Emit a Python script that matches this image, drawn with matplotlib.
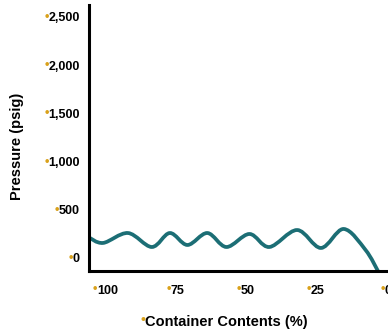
import matplotlib.pyplot as plt
from matplotlib.path import Path
from matplotlib.patches import PathPatch
import numpy as np

# chart data
contents = [106.9, 101.6, 92.7, 84.2, 77.8, 71.5, 64.4, 57.6, 49.4, 42.3, 32.4, 23.9, 15.8, 8.0, 3.4]
pressure = [218, 156, 259, 114, 259, 135, 259, 114, 249, 114, 290, 104, 301, 83, -145]
x_ticks = [100, 75, 50, 25, 0]
y_ticks = [0, 500, 1000, 1500, 2000, 2500]
y_tick_labels = ["0", "500", "1,000", "1,500", "2,000", "2,500"]

TEAL = "#1c6e75"
GOLD = "#d9a11b"
FONT = "Liberation Sans"

plt.rcParams['font.family'] = [FONT, 'DejaVu Sans']

fig = plt.figure(figsize=(3.88, 3.33), dpi=100)
ax = fig.add_axes([89 / 388, 1 - 271 / 333, 1 - 89 / 388, (271 - 5) / 333])

# smooth line through the read points (Catmull-Rom as Bezier segments)
pts = np.column_stack([contents, pressure])
verts = [pts[0]]
codes = [Path.MOVETO]
n = len(pts)
for i in range(n - 1):
    p0 = pts[max(i - 1, 0)]
    p1 = pts[i]
    p2 = pts[i + 1]
    p3 = pts[min(i + 2, n - 1)]
    verts += [p1 + (p2 - p0) / 6, p2 - (p3 - p1) / 6, p2]
    codes += [Path.CURVE4] * 3
ax.add_patch(PathPatch(Path(verts, codes), facecolor="none", edgecolor=TEAL,
                       lw=2.7, capstyle="round", joinstyle="round"))

ax.set_xlim(106.6, 0.5)
ax.set_ylim(-135, 2624)

for s in ["top", "right"]:
    ax.spines[s].set_visible(False)
for s in ["left", "bottom"]:
    ax.spines[s].set_linewidth(2.2)
    ax.spines[s].set_color("black")

ax.set_xticks(x_ticks)
ax.set_xticklabels([str(v) for v in x_ticks])
ax.set_yticks(y_ticks)
ax.set_yticklabels(y_tick_labels)
ax.tick_params(axis="both", length=0, labelsize=9)
ax.tick_params(axis="x", pad=10)
ax.tick_params(axis="y", pad=6.5)
for lab in ax.get_xticklabels() + ax.get_yticklabels():
    lab.set_fontweight("bold")
    lab.set_clip_on(False)

fig.canvas.draw()
# gold bullets in front of every tick label
for lab in ax.get_xticklabels() + ax.get_yticklabels():
    ax.annotate("•", xy=(0, 0.5), xycoords=lab, xytext=(0.2, 1.0),
                textcoords="offset points", ha="right", va="center",
                color=GOLD, fontsize=9, fontweight="bold", annotation_clip=False)

fig.text(17 / 388, 1 - 146 / 333, "Pressure (psig)", rotation=90, ha="center",
         va="center", fontsize=10.5, fontweight="bold")
fig.text(145 / 388, 1 - 322 / 333, "Container Contents (%)", ha="left",
         va="center", fontsize=10.5, fontweight="bold")
fig.text(145.5 / 388, 1 - 320 / 333, "•", ha="right", va="center",
         fontsize=10, fontweight="bold", color=GOLD)

fig.savefig("out.png", dpi=100)
